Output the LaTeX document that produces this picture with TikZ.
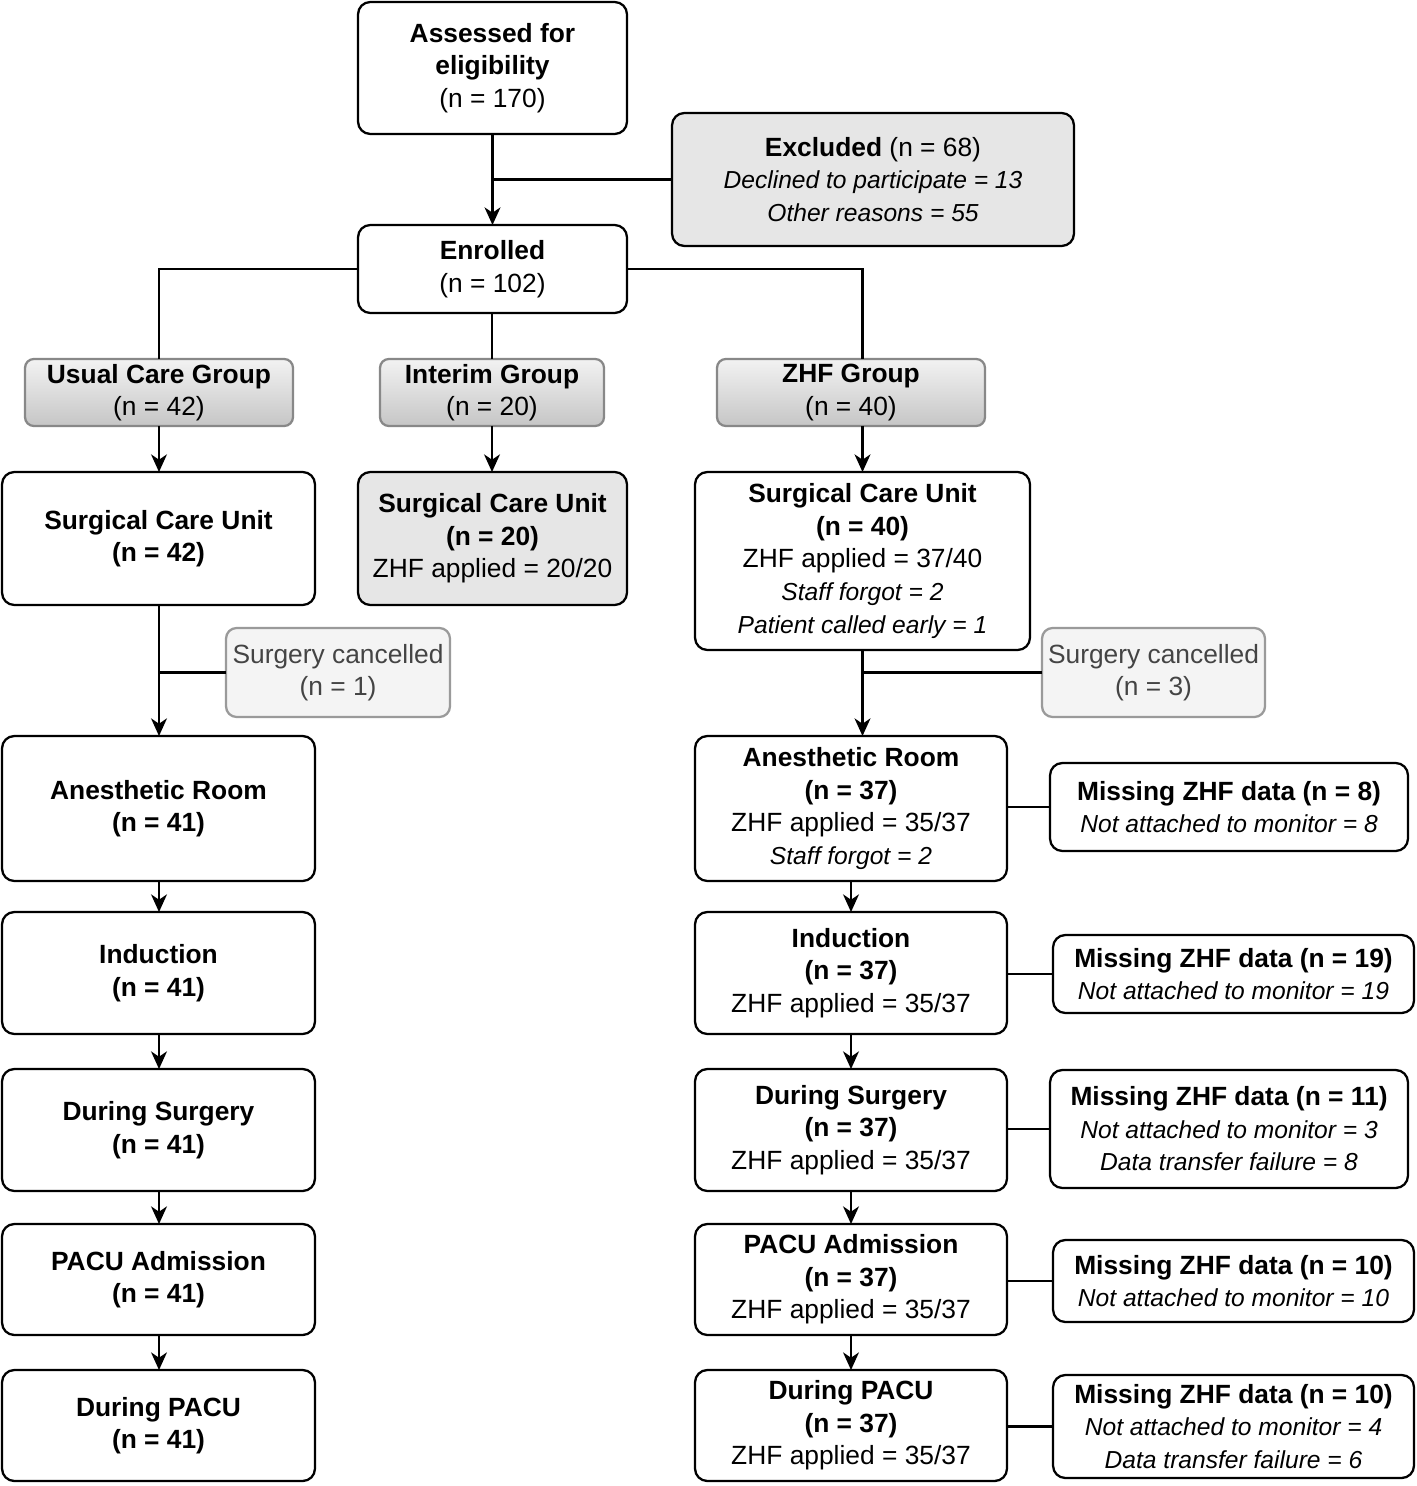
\documentclass[tikz,border=0pt]{standalone}
\usepackage{fontspec}
\setmainfont{Liberation Sans}
\usetikzlibrary{arrows.meta,positioning}
\definecolor{exfill}{HTML}{E6E6E6}
\definecolor{cfill}{HTML}{F4F4F4}
\definecolor{cborder}{HTML}{9A9A9A}
\definecolor{ctext}{HTML}{444444}
\definecolor{gborder}{HTML}{888888}
\newcommand{\itl}[1]{{\fontsize{14}{18.5}\selectfont\itshape #1}}
\tikzset{
  box/.style={draw=black, line width=1.3pt, rounded corners=7pt, align=center, outer sep=0pt, inner sep=0pt, fill=white,
    font=\fontsize{15}{18.5}\selectfont},
  greybox/.style={box, fill=exfill},
  grpbox/.style={box, draw=gborder, top color=gray!10, bottom color=gray!45, rounded corners=5pt},
  cancbox/.style={box, draw=cborder, fill=cfill, text=ctext, rounded corners=6pt},
  conn/.style={line width=1.4pt, draw=black},
  arr/.style={conn, -{Stealth[length=10pt,width=9pt,inset=3pt]}},
}
\begin{document}
\begin{tikzpicture}[x=0.02cm,y=-0.02cm]
\useasboundingbox (0,0) rectangle (1416,1486);
% top
\node[box, minimum width=5.38cm, minimum height=2.64cm] (A) at (492.5,68) {\textbf{Assessed for}\\\textbf{eligibility}\\(n = 170)};
\node[greybox, minimum width=8.04cm, minimum height=2.66cm] (Ex) at (873,179.5) {\textbf{Excluded} (n = 68)\\\itl{Declined to participate = 13}\\\itl{Other reasons = 55}};
\node[box, minimum width=5.38cm, minimum height=1.76cm] (En) at (492.5,269) {\textbf{Enrolled}\\(n = 102)};
% groups
\node[grpbox, minimum width=5.36cm, minimum height=1.34cm] (UG) at (159,392.5) {\textbf{Usual Care Group}\\(n = 42)};
\node[grpbox, minimum width=4.48cm, minimum height=1.34cm] (IG) at (492,392.5) {\textbf{Interim Group}\\(n = 20)};
\node[grpbox, minimum width=5.36cm, minimum height=1.34cm] (ZG) at (851,392.5) {\textbf{ZHF Group}\\(n = 40)};
% surgical care unit
\node[box, minimum width=6.26cm, minimum height=2.66cm] (SL) at (158.5,538.5) {\textbf{Surgical Care Unit}\\\textbf{(n = 42)}};
\node[greybox, minimum width=5.38cm, minimum height=2.66cm] (SI) at (492.5,538.5) {\textbf{Surgical Care Unit}\\\textbf{(n = 20)}\\ZHF applied = 20/20};
\node[box, minimum width=6.7cm, minimum height=3.56cm] (SZ) at (862.5,561) {\textbf{Surgical Care Unit}\\\textbf{(n = 40)}\\ZHF applied = 37/40\\\itl{Staff forgot = 2}\\\itl{Patient called early = 1}};
% cancelled
\node[cancbox, minimum width=4.48cm, minimum height=1.78cm] (CL) at (338,672.5) {Surgery cancelled\\(n = 1)};
\node[cancbox, minimum width=4.46cm, minimum height=1.78cm] (CR) at (1153.5,672.5) {Surgery cancelled\\(n = 3)};
% left column
\node[box, minimum width=6.26cm, minimum height=2.9cm] (AL) at (158.5,808.5) {\textbf{Anesthetic Room}\\\textbf{(n = 41)}};
\node[box, minimum width=6.26cm, minimum height=2.44cm] (IL) at (158.5,973) {\textbf{Induction}\\\textbf{(n = 41)}};
\node[box, minimum width=6.26cm, minimum height=2.44cm] (DL) at (158.5,1130) {\textbf{During Surgery}\\\textbf{(n = 41)}};
\node[box, minimum width=6.26cm, minimum height=2.22cm] (PL) at (158.5,1279.5) {\textbf{PACU Admission}\\\textbf{(n = 41)}};
\node[box, minimum width=6.26cm, minimum height=2.22cm] (QL) at (158.5,1425.5) {\textbf{During PACU}\\\textbf{(n = 41)}};
% right column
\node[box, minimum width=6.24cm, minimum height=2.9cm] (AR) at (851,808.5) {\textbf{Anesthetic Room}\\\textbf{(n = 37)}\\ZHF applied = 35/37\\\itl{Staff forgot = 2}};
\node[box, minimum width=6.24cm, minimum height=2.44cm] (IR) at (851,973) {\textbf{Induction}\\\textbf{(n = 37)}\\ZHF applied = 35/37};
\node[box, minimum width=6.24cm, minimum height=2.44cm] (DR) at (851,1130) {\textbf{During Surgery}\\\textbf{(n = 37)}\\ZHF applied = 35/37};
\node[box, minimum width=6.24cm, minimum height=2.22cm] (PR) at (851,1279.5) {\textbf{PACU Admission}\\\textbf{(n = 37)}\\ZHF applied = 35/37};
\node[box, minimum width=6.24cm, minimum height=2.22cm] (QR) at (851,1425.5) {\textbf{During PACU}\\\textbf{(n = 37)}\\ZHF applied = 35/37};
% missing data
\node[box, minimum width=7.16cm, minimum height=1.76cm] (M1) at (1229,807) {\textbf{Missing ZHF data (n = 8)}\\\itl{Not attached to monitor = 8}};
\node[box, minimum width=7.22cm, minimum height=1.56cm] (M2) at (1233.5,974) {\textbf{Missing ZHF data (n = 19)}\\\itl{Not attached to monitor = 19}};
\node[box, minimum width=7.16cm, minimum height=2.36cm] (M3) at (1229,1129) {\textbf{Missing ZHF data (n = 11)}\\\itl{Not attached to monitor = 3}\\\itl{Data transfer failure = 8}};
\node[box, minimum width=7.22cm, minimum height=1.64cm] (M4) at (1233.5,1281) {\textbf{Missing ZHF data (n = 10)}\\\itl{Not attached to monitor = 10}};
\node[box, minimum width=7.22cm, minimum height=2.06cm] (M5) at (1233.5,1426.5) {\textbf{Missing ZHF data (n = 10)}\\\itl{Not attached to monitor = 4}\\\itl{Data transfer failure = 6}};
% connectors
\draw[arr] (A.south) -- (En.north);
\draw[conn] (Ex.west) -- (Ex.west -| A.south);
\draw[conn] (En.west) -| (UG.north);
\draw[conn] (En.east) -| (SZ.north |- ZG.north);
\draw[conn] (IG.north |- En.south) -- (IG.north);
\draw[arr] (UG.south) -- (UG.south |- SL.north);
\draw[arr] (IG.south) -- (IG.south |- SI.north);
\draw[arr] (SZ.north |- ZG.south) -- (SZ.north);
\draw[arr] (UG.south |- SL.south) -- (UG.south |- AL.north);
\draw[conn] (CL.west) -- (CL.west -| UG.south);
\draw[arr] (SZ.south) -- (SZ.south |- AR.north);
\draw[conn] (CR.west) -- (CR.west -| SZ.south);
\foreach \a/\b in {AL/IL,IL/DL,DL/PL,PL/QL}{
  \draw[arr] (UG.south |- \a.south) -- (UG.south |- \b.north);
}
\foreach \a/\b in {AR/IR,IR/DR,DR/PR,PR/QR}{
  \draw[arr] (\a.south) -- (\b.north);
}
\foreach \a/\m in {AR/M1,IR/M2,DR/M3,PR/M4,QR/M5}{
  \draw[conn] (\m.west -| \a.east) -- (\m.west);
}
\end{tikzpicture}
\end{document}
